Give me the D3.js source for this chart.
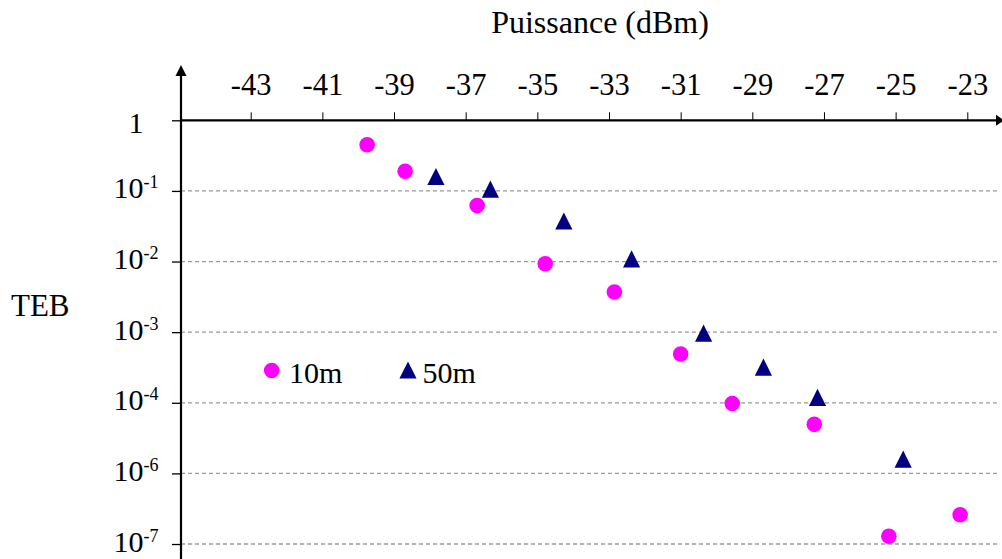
<!DOCTYPE html>
<html><head><meta charset="utf-8">
<script src="https://cdn.jsdelivr.net/npm/d3@7"></script>
<style>
html,body{margin:0;padding:0;background:#fff;}
svg{display:block;font-family:"Liberation Serif","Times New Roman",serif;}
</style></head>
<body>
<svg id="chart" width="1002" height="559"></svg>
<script>
// ---- data ----
const xTicks = [-43,-41,-39,-37,-35,-33,-31,-29,-27,-25,-23];
const yExponents = [0,-1,-2,-3,-4,-6,-7];
const yTickBase = ["1","10","10","10","10","10","10"];
const yTickSup = ["","-1","-2","-3","-4","-6","-7"];
const seriesNames = ["10m","50m"];
const p10m = [-39.75,-38.69,-36.68,-34.78,-32.85,-31.0,-29.56,-27.27,-25.19,-23.2];
const teb10m = [0.45,0.19,0.062,0.0093,0.0037,4.9e-4,9.5e-5,2.45e-5,1.29e-7,2.6e-7];
const p50m = [-37.83,-36.31,-34.26,-32.37,-30.36,-28.69,-27.18,-24.79];
const teb50m = [0.16,0.106,0.0375,0.0109,9.7e-4,3.2e-4,1.19e-4,2.55e-6];

const svg = d3.select("#chart");
const axisX = 181, axisTop = 120.3, step = 70.62;

const x = d3.scaleLinear().domain([-43,-23]).range([250.7,967.3]);
const y = d3.scaleLinear().domain(yExponents).range(yExponents.map((d,i)=>axisTop+i*step));
const yv = v => y(Math.log10(v));

// gridlines
svg.append("g").selectAll("line").data(yExponents.slice(1)).join("line")
  .attr("x1",axisX).attr("x2",999).attr("y1",d=>y(d)).attr("y2",d=>y(d))
  .attr("stroke","#9a9a9a").attr("stroke-width",1.3).attr("stroke-dasharray","4,3");

// x axis (top)
const gx = svg.append("g").attr("transform",`translate(0,${y(0)})`)
  .call(d3.axisTop(x).tickValues(xTicks).tickSize(8).tickPadding(17).tickFormat(d=>d));
gx.select(".domain").remove();
gx.selectAll(".tick line").attr("stroke","#000").attr("stroke-width",1);
gx.selectAll(".tick text").attr("font-size",30.5).attr("fill","#000")
  .attr("font-family","Liberation Serif");

// y axis ticks
const gy = svg.append("g").attr("transform",`translate(${axisX},0)`)
  .call(d3.axisLeft(y).tickValues(yExponents).tickSize(9).tickFormat(""));
gy.select(".domain").remove();
gy.selectAll(".tick line").attr("stroke","#000").attr("stroke-width",1.3);

// y tick labels with superscripts
const yl = svg.append("g").selectAll("text").data(yExponents).join("text")
  .attr("x",136).attr("y",(d,i)=> y(d) + (i===0 ? 13 : 7.5))
  .attr("text-anchor","middle").attr("font-size",30).attr("fill","#000");
yl.append("tspan").text((d,i)=>yTickBase[i]);
yl.append("tspan").attr("font-size",18).attr("dy",-10).text((d,i)=>yTickSup[i]);

// axis lines with arrows
svg.append("line").attr("x1",axisX).attr("x2",997).attr("y1",y(0)).attr("y2",y(0))
  .attr("stroke","#000").attr("stroke-width",2.2);
svg.append("path").attr("d",`M1004,${y(0)} L996,${y(0)-5.5} L996,${y(0)+5.5} Z`).attr("fill","#000");
svg.append("line").attr("x1",axisX).attr("x2",axisX).attr("y1",74).attr("y2",559)
  .attr("stroke","#000").attr("stroke-width",2.2);
svg.append("path").attr("d",`M${axisX},65 L${axisX-5.5},76 L${axisX+5.5},76 Z`).attr("fill","#000");

// titles
svg.append("text").attr("x",600).attr("y",33).attr("text-anchor","middle")
  .attr("font-size",32).attr("fill","#000").text("Puissance (dBm)");
svg.append("text").attr("x",11).attr("y",316)
  .attr("font-size",31).attr("fill","#000").text("TEB");

// markers
const tri = "M0,-8.6 L8.6,8.6 L-8.6,8.6 Z";
svg.append("g").selectAll("circle").data(p10m).join("circle")
  .attr("cx",d=>x(d)).attr("cy",(d,i)=>yv(teb10m[i])).attr("r",7.8).attr("fill","#FF00FF");
svg.append("g").selectAll("path").data(p50m).join("path")
  .attr("d",tri).attr("transform",(d,i)=>`translate(${x(d)},${yv(teb50m[i])})`).attr("fill","#000080");

// legend
svg.append("circle").attr("cx",271.7).attr("cy",370.5).attr("r",7.8).attr("fill","#FF00FF");
svg.append("text").attr("x",289).attr("y",383).attr("font-size",30).attr("fill","#000").text(seriesNames[0]);
svg.append("path").attr("d",tri).attr("transform","translate(408,370)").attr("fill","#000080");
svg.append("text").attr("x",422.5).attr("y",383).attr("font-size",30).attr("fill","#000").text(seriesNames[1]);
</script>
</body></html>
